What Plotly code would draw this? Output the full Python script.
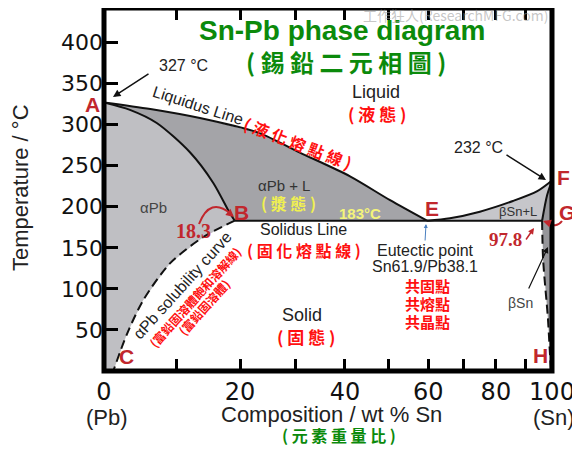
import numpy as np
import plotly.graph_objects as go

# ---------------- data (composition in wt % Sn, temperature in °C) ----------------
liq_pb_w = [0, 6.2, 13.5, 23.2, 30.8, 41.1, 50.3, 59.7]
liq_pb_t = [327, 319, 308, 290, 266, 237, 208, 183]
sol_pb_w = [0, 3.4, 7.1, 12.0, 15.6, 18.3, 19.1]
sol_pb_t = [327, 318, 302, 266, 229, 192, 183]
solv_pb_w = [19.1, 14.0, 9.0, 5.2, 3.0, 1.2]
solv_pb_t = [183, 163, 131, 86, 45, 0]
liq_sn_w = [59.7, 66.0, 74.9, 85.7, 94.4, 100]
liq_sn_t = [183, 186, 194, 207, 219, 232]
sol_sn_w = [100, 98.1, 96.2]
sol_sn_t = [232, 214, 183]
solv_sn_w = [96.2, 96.6, 98.4, 99.2, 99.6]
solv_sn_t = [183, 135, 65, 21, 0]
eutectic_t = 183

x_tick_wt = [0, 10, 20, 30, 40, 50, 60, 70, 80, 90, 100]
x_tick_text = ["0", "", "20", "", "40", "", "60", "", "80", "", "100"]
y_tick_vals = [50, 100, 150, 200, 250, 300, 350, 400]

# axis is linear in atomic %, labelled in wt %
R = 207.2 / 118.7
def to_at(w):
    w = np.asarray(w, float)
    return 100 * w * R / (w * R + 100 - w)

def X(w):
    return list(to_at(w))

# ---------------- figure ----------------
fig = go.Figure()

def poly(xs, ys, color):
    fig.add_trace(go.Scatter(x=xs, y=ys, mode="lines", fill="toself", fillcolor=color,
                             line=dict(width=0), hoverinfo="skip", showlegend=False))

# alpha Pb region
poly(X(sol_pb_w) + X(solv_pb_w) + X([0, 0]), sol_pb_t + solv_pb_t + [0, 327], "#bfbfc3")
# alpha Pb + L
poly(X(liq_pb_w) + X(sol_pb_w[::-1]), liq_pb_t + sol_pb_t[::-1], "#a4a4a8")
# beta Sn + L
poly(X(liq_sn_w) + X(sol_sn_w) + X([liq_sn_w[0]]), liq_sn_t + sol_sn_t + [eutectic_t], "#c6c6ca")
# beta Sn
poly(X(sol_sn_w) + X(solv_sn_w) + X([100, 100]), sol_sn_t + solv_sn_t + [0, 232], "#96969a")

def curve(ws, ts, dash="solid", width=2):
    fig.add_trace(go.Scatter(x=X(ws), y=ts, mode="lines",
                             line=dict(color="#111", width=width, shape="spline", smoothing=0.8, dash=dash),
                             hoverinfo="skip", showlegend=False))

curve(liq_pb_w, liq_pb_t)
curve(sol_pb_w, sol_pb_t)
curve(liq_sn_w, liq_sn_t)
curve(sol_sn_w, sol_sn_t)
curve(solv_pb_w, solv_pb_t, dash="9px,5px")
curve(solv_sn_w, solv_sn_t, dash="9px,5px")
fig.add_trace(go.Scatter(x=X([sol_pb_w[-1], sol_sn_w[-1]]), y=[eutectic_t, eutectic_t], mode="lines",
                         line=dict(color="#111", width=2), hoverinfo="skip", showlegend=False))

# ---------------- layout helpers (reference pixel -> paper) ----------------
OFF = 8                      # page body margin of the browser
FW, FH = 580 - OFF, 450 - OFF
L, T, W, H = 104, 8, 448, 363   # plot area in reference pixels
def P(x, y):
    return (x - L) / W, (T + H - y) / H

ann = []
def txt(x, y, s, size=16, color="#222", family="Liberation Sans", weight="normal", angle=0):
    px, py = P(x, y)
    ann.append(dict(x=px, y=py, xref="paper", yref="paper", text=s, showarrow=False,
                    xanchor="center", yanchor="middle", textangle=angle,
                    font=dict(size=size, color=color, family=family, weight=weight)))

def arrow(tx, ty, hx, hy, color="#111", width=1.5, head=2, size=1.0):
    px, py = P(hx, hy)
    ann.append(dict(x=px, y=py, xref="paper", yref="paper", text="", showarrow=True,
                    ax=tx - hx, ay=ty - hy, arrowhead=head, arrowsize=size,
                    arrowwidth=width, arrowcolor=color))

CJK = "Noto Sans CJK TC"
GREEN = "#0b8a0b"
RED = "#ff1010"
DRED = "#c1272d"

# titles
txt(342, 31, "Sn-Pb phase diagram", 28, GREEN, weight="bold")
txt(346, 61, "( 錫 鉛 二 元 相 圖 )", 24, GREEN, CJK, "bold")
txt(455, 15, "工作狂人(ResearchMFG.com)", 14, "rgba(150,150,150,0.55)", CJK)

# axis titles
txt(107, 417, "(Pb)", 22)
txt(554, 417, "(Sn)", 22)
txt(331, 415, "Composition / wt % Sn", 22)
txt(339, 435, "( 元 素 重 量 比 )", 16, GREEN, CJK, "bold")
txt(20, 188, "Temperature / °C", 22, angle=-90)

# point labels
for (x, y, s) in [(92, 104, "A"), (241, 212, "B"), (126, 356, "C"), (432, 208, "E"),
                  (563, 177, "F"), (567, 212, "G"), (540, 355, "H")]:
    txt(x, y, s, 21, DRED, weight="bold")

txt(183, 66, "327 °C", 16)
arrow(150, 73, 113, 97)
txt(478, 147, "232 °C", 16)
arrow(505, 154, 546, 180)

txt(198, 105, "Liquidus Line", 16, angle=18)
txt(298, 143, "( 液 化 熔 點 線 )", 16, RED, CJK, "bold", angle=21)
txt(376, 92, "Liquid", 18)
txt(377, 113, "( 液 態 )", 17, RED, CJK, "bold")

txt(153, 207, "αPb", 15, "#444")
txt(284, 185, "αPb + L", 15, "#333")
txt(288, 203, "( 漿 態 )", 16, "#f0f050", CJK, "bold")
txt(360, 213, "183°C", 15, "#f4f47a", weight="bold")

txt(193, 231, "18.3", 20, DRED, "Liberation Serif", "bold")
txt(303, 229, "Solidus Line", 16)
txt(304, 250, "( 固 化 熔 點 線 )", 16, RED, CJK, "bold")

txt(425, 250, "Eutectic point", 16)
txt(425, 266, "Sn61.9/Pb38.1", 16)
arrow(425, 242, 426, 224, "#4a7fc0", 1, 2, 0.8)
txt(427, 285, "共固點", 15, RED, CJK, "bold")
txt(427, 303, "共熔點", 15, RED, CJK, "bold")
txt(427, 321, "共晶點", 15, RED, CJK, "bold")

txt(518, 211, "βSn+L", 13, "#333")
txt(505, 239, "97.8", 19, DRED, "Liberation Serif", "bold")
arrow(525, 241, 534, 228, DRED, 1.5, 2, 0.8)
txt(520, 303, "βSn", 14, "#444")
arrow(528, 290, 548, 247, "#111", 1.2, 2, 1)

txt(302, 315, "Solid", 18)
txt(306, 336, "( 固 態 )", 17, RED, CJK, "bold")

txt(182, 285, "αPb solubility curve", 16, angle=-48)
txt(194, 297, "(富鉛固溶體飽和溶解線)", 12, RED, CJK, "bold", angle=-48)
txt(203, 307, "(富鉛固溶體)", 12, RED, CJK, "bold", angle=-48)

# curved red arrows
def qpath(p0, c, p1):
    a, b, d = P(*p0), P(*c), P(*p1)
    return f"M {a[0]},{a[1]} Q {b[0]},{b[1]} {d[0]},{d[1]}"

shapes = [
    dict(type="path", xref="paper", yref="paper", path=qpath((199, 224), (210, 196), (231, 214)),
         line=dict(color=DRED, width=2)),
    dict(type="path", xref="paper", yref="paper", path=qpath((562, 221), (556, 229), (547, 222)),
         line=dict(color=DRED, width=2)),
    dict(type="rect", xref="paper", yref="paper", x0=0, y0=0, x1=1, y1=1,
         line=dict(color="black", width=5), layer="above"),
]
arrow(228, 212, 234, 217, DRED, 2, 2, 0.8)
arrow(549, 223, 543, 221, DRED, 2, 2, 0.8)

fig.update_layout(
    width=FW, height=FH,
    margin=dict(l=L - OFF, r=FW - (L - OFF) - W, t=T - OFF, b=FH - (T - OFF) - H),
    paper_bgcolor="white", plot_bgcolor="white",
    showlegend=False,
    annotations=ann, shapes=shapes,
    xaxis=dict(range=[0, 100], tickvals=X(x_tick_wt), ticktext=x_tick_text,
               ticks="inside", ticklen=12, tickwidth=3, tickcolor="black",
               showgrid=False, zeroline=False, showline=False, mirror="ticks",
               ticklabelstandoff=4, automargin=False,
               tickfont=dict(family="DejaVu Sans", size=24, color="#111")),
    yaxis=dict(range=[0, 442], tickvals=y_tick_vals,
               ticks="inside", ticklen=14, tickwidth=3, tickcolor="black",
               showgrid=False, zeroline=False, showline=False, automargin=False,
               tickfont=dict(family="DejaVu Sans", size=22, color="#111")),
)

fig.write_html("out.html")
